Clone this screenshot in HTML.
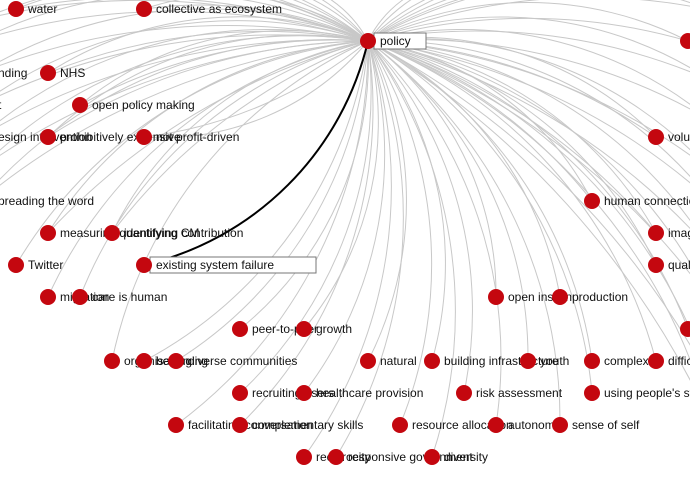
<!DOCTYPE html>
<html><head><meta charset="utf-8">
<style>
html,body{margin:0;padding:0;background:#fff;overflow:hidden;}
svg{display:block;}
text{font-family:"Liberation Sans",Arial,sans-serif;font-size:12px;fill:#111;}
</style></head>
<body>
<svg id="s" width="690" height="485" viewBox="0 0 690 485" xmlns="http://www.w3.org/2000/svg">
<g id="links" fill="none" stroke="#c8c8c8" stroke-width="1"></g>
<path d="M368,41 A300,300 0 0 1 144,265" fill="none" stroke="#000" stroke-width="2"/>
<g id="nodes"></g>
</svg>
<script>
var P=[368,41];
var nodes=[
[16,9,"water"],[144,9,"collective as ecosystem"],[48,73,"NHS"],[80,105,"open policy making"],
[48,137,"prohibitively expensive"],[144,137,"not profit-driven"],
[48,233,"measuring/quantifying CM"],[112,233,"identifying contribution"],
[16,265,"Twitter"],[48,297,"migration"],[80,297,"care is human"],
[240,329,"peer-to-peer"],[304,329,"growth"],
[112,361,"organisation"],[144,361,"belonging"],[176,361,"diverse communities"],
[240,393,"recruiting users"],[304,393,"healthcare provision"],
[176,425,"facilitating conversation"],[240,425,"complementary skills"],
[304,457,"reciprocity"],[336,457,"responsive government"],[432,457,"diversity"],
[368,361,"natural"],[432,361,"building infrastructure"],[528,361,"youth"],[592,361,"complexity"],[656,361,"difficulty"],
[464,393,"risk assessment"],[592,393,"using people's strengths"],
[400,425,"resource allocation"],[496,425,"autonomy"],[560,425,"sense of self"],
[496,297,"open insulin"],[560,297,"production"],[656,265,"quality"],[688,329,""],
[592,201,"human connection"],[656,233,"images"],[656,137,"volunteering"],[688,41,""],
[144,265,"existing system failure"]
];
var extra=[[-20,73],[-20,105],[-20,137],[-20,201],[-20,169],[-20,40],[-20,20],
[80,-20],[200,-20],[280,-20],[450,-20],[550,-20],[650,-20],[710,10],[710,80],[710,120],[710,170],[710,200],[710,250],[710,300],[710,380],[710,420]];
var L=document.getElementById('links'),N=document.getElementById('nodes');
var ns="http://www.w3.org/2000/svg";
function link(x,y,k){
 var dx=x-P[0],dy=y-P[1],d=Math.sqrt(dx*dx+dy*dy)*k;
 var sweep=((y<P[1]+40 && x<P[0]) || x<130)?0:1;
 var p=document.createElementNS(ns,'path');
 p.setAttribute('d','M'+P[0]+','+P[1]+' A'+d+','+d+' 0 0 '+sweep+' '+x+','+y);
 L.appendChild(p);
}
nodes.forEach(function(n){ if(!(n[0]==144&&n[1]==265)){ link(n[0],n[1],1.1); if(n[1]<250) link(n[0],n[1],1.8);} });
extra.forEach(function(n){link(n[0],n[1],1.1);link(n[0],n[1],1.7);});
[[0,73,"nding"],[0,105,"t"],[0,137,"esign intervention"],[0,201,"preading the word"]].forEach(function(t){
 var e=document.createElementNS(ns,'text');e.setAttribute('x',t[0]-2);e.setAttribute('y',t[1]+4);e.textContent=t[2];N.appendChild(e);
});
nodes.forEach(function(n){
 if(n[2]=="existing system failure"){
  var r=document.createElementNS(ns,'rect');r.setAttribute('x',150);r.setAttribute('y',257);r.setAttribute('width',166);r.setAttribute('height',16);
  r.setAttribute('fill','#fff');r.setAttribute('stroke','#777');r.setAttribute('stroke-width','1');N.appendChild(r);
 }
 var c=document.createElementNS(ns,'circle');c.setAttribute('cx',n[0]);c.setAttribute('cy',n[1]);c.setAttribute('r',8);c.setAttribute('fill','#c4070f');N.appendChild(c);
 var t=document.createElementNS(ns,'text');t.setAttribute('x',n[0]+12);t.setAttribute('y',n[1]+4);t.textContent=n[2];N.appendChild(t);
});
var r=document.createElementNS(ns,'rect');r.setAttribute('x',374);r.setAttribute('y',33);r.setAttribute('width',52);r.setAttribute('height',16);
r.setAttribute('fill','#fff');r.setAttribute('stroke','#777');N.appendChild(r);
var c=document.createElementNS(ns,'circle');c.setAttribute('cx',368);c.setAttribute('cy',41);c.setAttribute('r',8);c.setAttribute('fill','#c4070f');N.appendChild(c);
var t=document.createElementNS(ns,'text');t.setAttribute('x',380);t.setAttribute('y',45);t.textContent="policy";N.appendChild(t);
</script>
</body></html>
